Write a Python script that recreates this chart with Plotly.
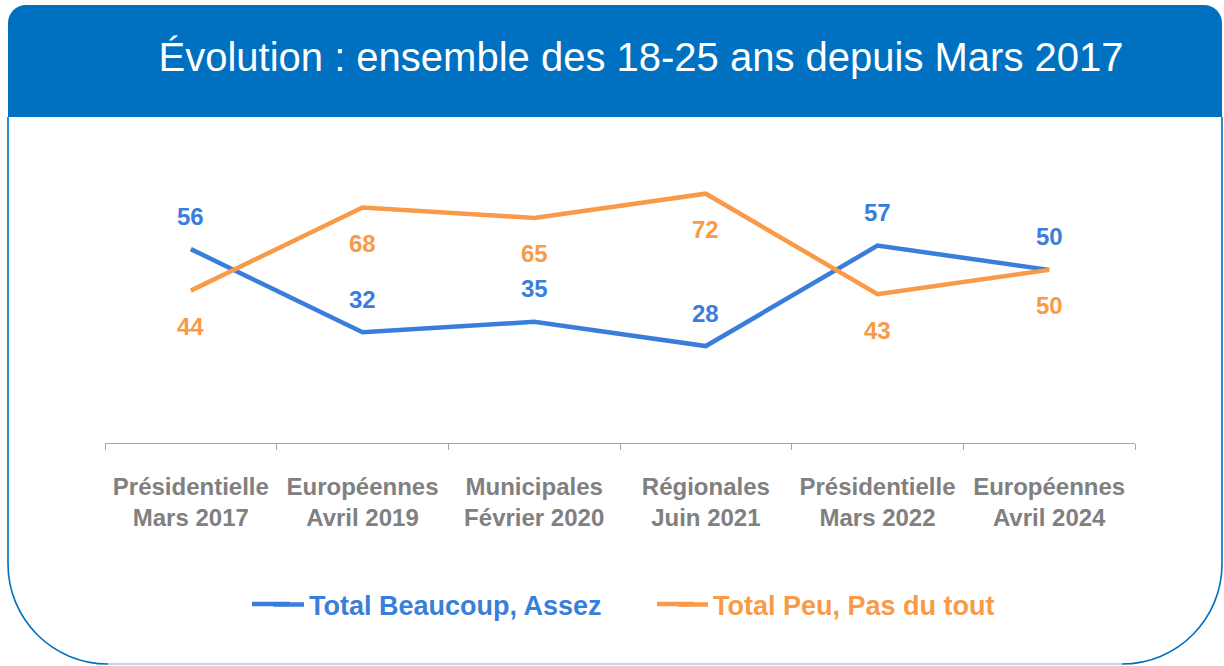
import plotly.graph_objects as go

# ---- data ----
categories = [
    "Présidentielle<br>Mars 2017",
    "Européennes<br>Avril 2019",
    "Municipales<br>Février 2020",
    "Régionales<br>Juin 2021",
    "Présidentielle<br>Mars 2022",
    "Européennes<br>Avril 2024",
]
beaucoup_assez = [56, 32, 35, 28, 57, 50]
peu_pas_du_tout = [44, 68, 65, 72, 43, 50]
series_names = ["Total Beaucoup, Assez", "Total Peu, Pas du tout"]
title_text = "Évolution : ensemble des 18-25 ans depuis Mars 2017"

BLUE = "#3A7EDB"
ORANGE = "#F89A48"
FRAME = "#0070C0"
GRAY = "#808080"
FONT = "Liberation Sans, Arial, sans-serif"

W, H = 1224, 666
L, R, T, B = 105, 1135, 166, 443  # plot area in pixels


def px(x):
    return (x - L) / (R - L)


def py(y):
    return (B - y) / (B - T)


fig = go.Figure()
fig.add_trace(go.Scatter(x=categories, y=beaucoup_assez, mode="lines", name=series_names[0],
                         line=dict(color=BLUE, width=4.5), hoverinfo="skip", legend="legend"))
fig.add_trace(go.Scatter(x=categories, y=peu_pas_du_tout, mode="lines", name=series_names[1],
                         line=dict(color=ORANGE, width=4.5), hoverinfo="skip", legend="legend2"))

annotations = []
for c, v in zip(categories, beaucoup_assez):
    annotations.append(dict(x=c, y=v, text=str(v), showarrow=False, yshift=33,
                            font=dict(family=FONT, size=24, color=BLUE, weight="bold")))
for c, v in zip(categories, peu_pas_du_tout):
    annotations.append(dict(x=c, y=v, text=str(v), showarrow=False, yshift=-36,
                            font=dict(family=FONT, size=24, color=ORANGE, weight="bold")))

k = 0.5523
r1 = 18
header = (f"M {px(8)},{py(117)} L {px(8)},{py(5 + r1)} "
          f"C {px(8)},{py(5 + r1 - r1 * k)} {px(8 + r1 - r1 * k)},{py(5)} {px(8 + r1)},{py(5)} "
          f"L {px(1222 - r1)},{py(5)} "
          f"C {px(1222 - r1 + r1 * k)},{py(5)} {px(1222)},{py(5 + r1 - r1 * k)} {px(1222)},{py(5 + r1)} "
          f"L {px(1222)},{py(117)} Z")
r2 = 100
left_side = (f"M {px(8)},{py(117)} L {px(8)},{py(664 - r2)} "
             f"C {px(8)},{py(664 - r2 + r2 * k)} {px(8 + r2 - r2 * k)},{py(664)} {px(8 + r2)},{py(664)}")
right_side = (f"M {px(1222)},{py(117)} L {px(1222)},{py(664 - r2)} "
              f"C {px(1222)},{py(664 - r2 + r2 * k)} {px(1222 - r2 + r2 * k)},{py(664)} {px(1222 - r2)},{py(664)}")

shapes = [
    dict(type="path", path=header, xref="paper", yref="paper", fillcolor=FRAME,
         line=dict(width=0), layer="below"),
    dict(type="path", path=left_side, xref="paper", yref="paper",
         line=dict(color=FRAME, width=1.6), layer="below"),
    dict(type="path", path=right_side, xref="paper", yref="paper",
         line=dict(color=FRAME, width=1.6), layer="below"),
    dict(type="line", x0=px(8 + r2), x1=px(1222 - r2), y0=py(664), y1=py(664),
         xref="paper", yref="paper", line=dict(color="#A9C9E6", width=1.6), layer="below"),
    # lengthen the legend line samples to match the reference key length
    dict(type="line", x0=px(252), x1=px(290), y0=py(604), y1=py(604),
         xref="paper", yref="paper", line=dict(color=BLUE, width=4.5), layer="below"),
    dict(type="line", x0=px(657), x1=px(694), y0=py(604), y1=py(604),
         xref="paper", yref="paper", line=dict(color=ORANGE, width=4.5), layer="below"),
]

legend_common = dict(orientation="h", yanchor="middle", xanchor="left", bgcolor="rgba(0,0,0,0)",
                     itemclick=False, itemdoubleclick=False)

fig.update_layout(
    width=W, height=H,
    margin=dict(l=L, r=W - R, t=T, b=H - B, pad=0),
    paper_bgcolor="white",
    plot_bgcolor="rgba(0,0,0,0)",
    title=dict(text=title_text, x=641 / W, xanchor="center", y=1 - 57 / H, yanchor="middle",
               font=dict(family=FONT, size=40, color="white")),
    xaxis=dict(type="category", range=[-0.5, 5.5], showline=True, linecolor="#A6A6A6", linewidth=1.3,
               ticks="outside", ticklen=6, tickcolor="#A6A6A6", tickwidth=1.3, tickson="boundaries",
               showgrid=False, zeroline=False, ticklabelstandoff=22,
               tickfont=dict(family=FONT, size=24, color=GRAY, weight="bold")),
    yaxis=dict(range=[0, 80], visible=False, showgrid=False, zeroline=False),
    showlegend=True,
    legend=dict(x=px(269), y=py(605), font=dict(family=FONT, size=27, weight="bold", color=BLUE),
                **legend_common),
    legend2=dict(x=px(673), y=py(605), font=dict(family=FONT, size=27, weight="bold", color=ORANGE),
                 **legend_common),
    annotations=annotations,
    shapes=shapes,
)

fig.write_html("out.html", config={"displayModeBar": False},
               post_script="document.body.style.margin='0';")
